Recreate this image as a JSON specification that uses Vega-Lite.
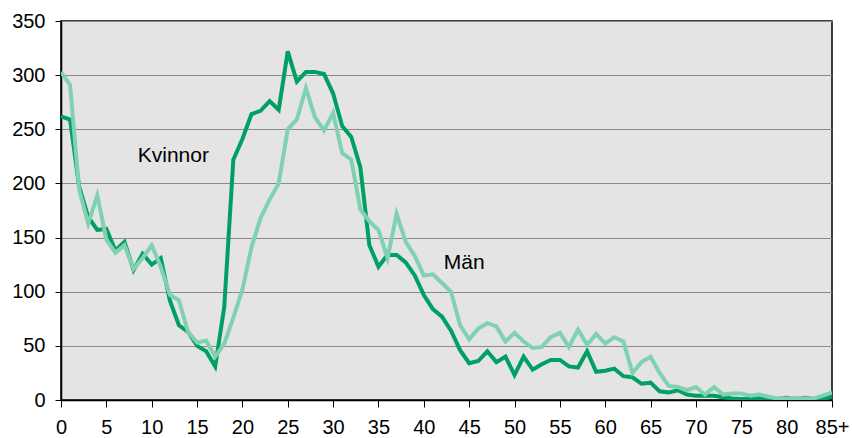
{
  "$schema": "https://vega.github.io/schema/vega-lite/v6.json",
  "width": 771,
  "height": 379,
  "autosize": {"type": "none"},
  "padding": {"left": 61, "top": 21, "right": 20, "bottom": 38},
  "background": "white",
  "config": {
    "view": {"fill": "#e4e4e4", "stroke": "#000000", "strokeWidth": 1.5},
    "font": "Liberation Sans"
  },
  "datasets": {
    "series": [
      {"age":0,"Kvinnor":262,"Män":303},{"age":1,"Kvinnor":259,"Män":291},{"age":2,"Kvinnor":197,"Män":194},
      {"age":3,"Kvinnor":169,"Män":163},{"age":4,"Kvinnor":157,"Män":189},{"age":5,"Kvinnor":158,"Män":148},
      {"age":6,"Kvinnor":138,"Män":136},{"age":7,"Kvinnor":146,"Män":143},{"age":8,"Kvinnor":120,"Män":121},
      {"age":9,"Kvinnor":135,"Män":131},{"age":10,"Kvinnor":125,"Män":143},{"age":11,"Kvinnor":131,"Män":123},
      {"age":12,"Kvinnor":92,"Män":97},{"age":13,"Kvinnor":69,"Män":92},{"age":14,"Kvinnor":63,"Män":63},
      {"age":15,"Kvinnor":50,"Män":53},{"age":16,"Kvinnor":45,"Män":55},{"age":17,"Kvinnor":31,"Män":40},
      {"age":18,"Kvinnor":86,"Män":52},{"age":19,"Kvinnor":222,"Män":76},{"age":20,"Kvinnor":241,"Män":102},
      {"age":21,"Kvinnor":264,"Män":141},{"age":22,"Kvinnor":267,"Män":168},{"age":23,"Kvinnor":276,"Män":185},
      {"age":24,"Kvinnor":268,"Män":200},{"age":25,"Kvinnor":322,"Män":250},{"age":26,"Kvinnor":294,"Män":259},
      {"age":27,"Kvinnor":303,"Män":288},{"age":28,"Kvinnor":303,"Män":261},{"age":29,"Kvinnor":301,"Män":249},
      {"age":30,"Kvinnor":283,"Män":265},{"age":31,"Kvinnor":253,"Män":228},{"age":32,"Kvinnor":243,"Män":222},
      {"age":33,"Kvinnor":215,"Män":176},{"age":34,"Kvinnor":143,"Män":165},{"age":35,"Kvinnor":123,"Män":157},
      {"age":36,"Kvinnor":134,"Män":131},{"age":37,"Kvinnor":134,"Män":172},{"age":38,"Kvinnor":127,"Män":146},
      {"age":39,"Kvinnor":115,"Män":133},{"age":40,"Kvinnor":97,"Män":115},{"age":41,"Kvinnor":84,"Män":116},
      {"age":42,"Kvinnor":77,"Män":108},{"age":43,"Kvinnor":64,"Män":100},{"age":44,"Kvinnor":46,"Män":69},
      {"age":45,"Kvinnor":34,"Män":56},{"age":46,"Kvinnor":36,"Män":66},{"age":47,"Kvinnor":45,"Män":71},
      {"age":48,"Kvinnor":35,"Män":68},{"age":49,"Kvinnor":40,"Män":54},{"age":50,"Kvinnor":23,"Män":62},
      {"age":51,"Kvinnor":40,"Män":54},{"age":52,"Kvinnor":28,"Män":48},{"age":53,"Kvinnor":33,"Män":49},
      {"age":54,"Kvinnor":37,"Män":58},{"age":55,"Kvinnor":37,"Män":62},{"age":56,"Kvinnor":31,"Män":49},
      {"age":57,"Kvinnor":30,"Män":65},{"age":58,"Kvinnor":45,"Män":51},{"age":59,"Kvinnor":26,"Män":61},
      {"age":60,"Kvinnor":27,"Män":52},{"age":61,"Kvinnor":29,"Män":58},{"age":62,"Kvinnor":22,"Män":54},
      {"age":63,"Kvinnor":21,"Män":25},{"age":64,"Kvinnor":15,"Män":35},{"age":65,"Kvinnor":16,"Män":40},
      {"age":66,"Kvinnor":8,"Män":25},{"age":67,"Kvinnor":7,"Män":13},{"age":68,"Kvinnor":9,"Män":12},
      {"age":69,"Kvinnor":5,"Män":9},{"age":70,"Kvinnor":4,"Män":12},{"age":71,"Kvinnor":4,"Män":5},
      {"age":72,"Kvinnor":4,"Män":12},{"age":73,"Kvinnor":2.5,"Män":5},{"age":74,"Kvinnor":1.5,"Män":6},
      {"age":75,"Kvinnor":1,"Män":6},{"age":76,"Kvinnor":1,"Män":4},{"age":77,"Kvinnor":2,"Män":5},
      {"age":78,"Kvinnor":1,"Män":3},{"age":79,"Kvinnor":1,"Män":1.5},{"age":80,"Kvinnor":2,"Män":1.5},
      {"age":81,"Kvinnor":1,"Män":2},{"age":82,"Kvinnor":2,"Män":1.5},{"age":83,"Kvinnor":1,"Män":1.5},
      {"age":84,"Kvinnor":1,"Män":4},{"age":85,"Kvinnor":3,"Män":7}
    ],
    "labels": [
      {"label": "Kvinnor", "age": 8.46, "value": 220},
      {"label": "Män", "age": 42.2, "value": 121}
    ]
  },
  "layer": [
    {
      "data": {"name": "series"},
      "mark": {"type": "line", "stroke": "#00a064", "strokeWidth": 4, "strokeJoin": "miter", "clip": true},
      "encoding": {
        "x": {
          "field": "age", "type": "quantitative",
          "scale": {"domain": [0, 85], "nice": false, "zero": false},
          "axis": {
            "title": null, "grid": false,
            "values": [0,5,10,15,20,25,30,35,40,45,50,55,60,65,70,75,80,85],
            "labelExpr": "datum.value == 85 ? '85+' : datum.label",
            "domainColor": "#000000", "domainWidth": 1.5,
            "tickColor": "#000000", "tickSize": 7, "tickWidth": 1,
            "labelFontSize": 20, "labelColor": "#000000", "labelPadding": 10,
            "labelFont": "Liberation Sans", "labelFlush": false, "labelOverlap": false
          }
        },
        "y": {
          "field": "Kvinnor", "type": "quantitative",
          "scale": {"domain": [0, 350], "nice": false},
          "axis": {
            "title": null,
            "values": [0,50,100,150,200,250,300,350],
            "grid": true, "gridColor": "#8a8a8a", "gridWidth": 1, "gridOpacity": 1,
            "domainColor": "#000000", "domainWidth": 1.5,
            "tickColor": "#000000", "tickSize": 6, "tickWidth": 1,
            "labelFontSize": 20, "labelColor": "#000000", "labelPadding": 10,
            "labelFont": "Liberation Sans", "labelFlush": false, "labelOverlap": false
          }
        }
      }
    },
    {
      "data": {"name": "series"},
      "mark": {"type": "line", "stroke": "#80d1b1", "strokeWidth": 4, "strokeJoin": "miter", "clip": true},
      "encoding": {
        "x": {"field": "age", "type": "quantitative"},
        "y": {"field": "Män", "type": "quantitative"}
      }
    },
    {
      "data": {"name": "labels"},
      "mark": {"type": "text", "align": "left", "baseline": "alphabetic", "fontSize": 21, "font": "Liberation Sans", "color": "#000000"},
      "encoding": {
        "x": {"field": "age", "type": "quantitative"},
        "y": {"field": "value", "type": "quantitative"},
        "text": {"field": "label"}
      }
    }
  ]
}
